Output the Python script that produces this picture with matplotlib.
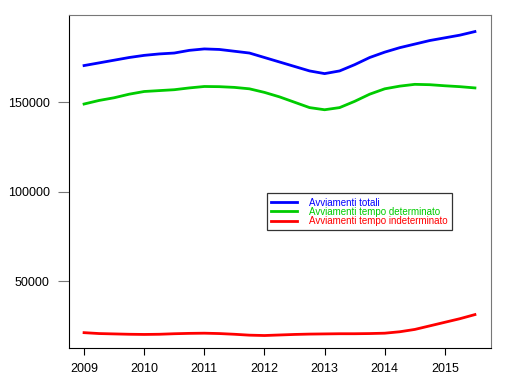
import matplotlib
matplotlib.use("Agg")
import matplotlib.pyplot as plt

plt.rcParams['font.family'] = ['Liberation Sans', 'DejaVu Sans']

# quarterly points, 2009.0 .. 2015.5
anni = [2009 + 0.25 * i for i in range(27)]

totali = [170500, 172000, 173500, 175000, 176200, 177000, 177500, 179000,
          179800, 179500, 178500, 177500, 175000, 172500, 170000, 167500,
          166000, 167500, 171000, 175000, 178000, 180500, 182500, 184500,
          186000, 187500, 189500]
determinato = [149000, 151000, 152500, 154500, 156000, 156500, 157000, 158000,
               158800, 158700, 158300, 157500, 155500, 153000, 150000, 147000,
               145800, 147000, 150500, 154500, 157500, 159000, 160000, 159800,
               159200, 158700, 158000]
indeterminato = [21200, 20700, 20500, 20300, 20200, 20300, 20600, 20800,
                 20900, 20700, 20300, 19800, 19600, 19900, 20200, 20400,
                 20500, 20600, 20600, 20700, 20900, 21700, 23000, 25000,
                 27000, 29000, 31300]

serie = [("Avviamenti totali", totali, "#0000ff"),
         ("Avviamenti tempo determinato", determinato, "#00cc00"),
         ("Avviamenti tempo indeterminato", indeterminato, "#ff0000")]

fig = plt.figure(figsize=(5.27, 3.92), dpi=100)
ax = fig.add_axes([0.131, 0.112, 0.801, 0.849])

for nome, valori, col in serie:
    ax.plot(anni, valori, color=col, lw=2.0, label=nome)

ax.set_xlim(2008.75, 2015.77)
ax.set_ylim(12570, 198600)
ax.set_xticks(range(2009, 2016))
ax.set_yticks([50000, 100000, 150000])

ax.spines['left'].set_color('black')
ax.spines['bottom'].set_color('black')
ax.spines['top'].set_color('#777777')
ax.spines['right'].set_color('#777777')
ax.tick_params(axis='x', length=5, color='black', labelsize=9, pad=6)
ax.tick_params(axis='y', length=8, color='#777777', labelsize=9, pad=6)

leg = ax.legend(loc='lower left', bbox_to_anchor=(0.469, 0.354), fontsize=7,
                frameon=True, fancybox=False, edgecolor='black',
                handlelength=2.6, borderpad=0.45, labelspacing=-0.1,
                handletextpad=1.3, borderaxespad=0)
leg.get_frame().set_linewidth(0.9)
for txt, (_, _, col) in zip(leg.get_texts(), serie):
    txt.set_color(col)

fig.savefig("out.png", dpi=100)
